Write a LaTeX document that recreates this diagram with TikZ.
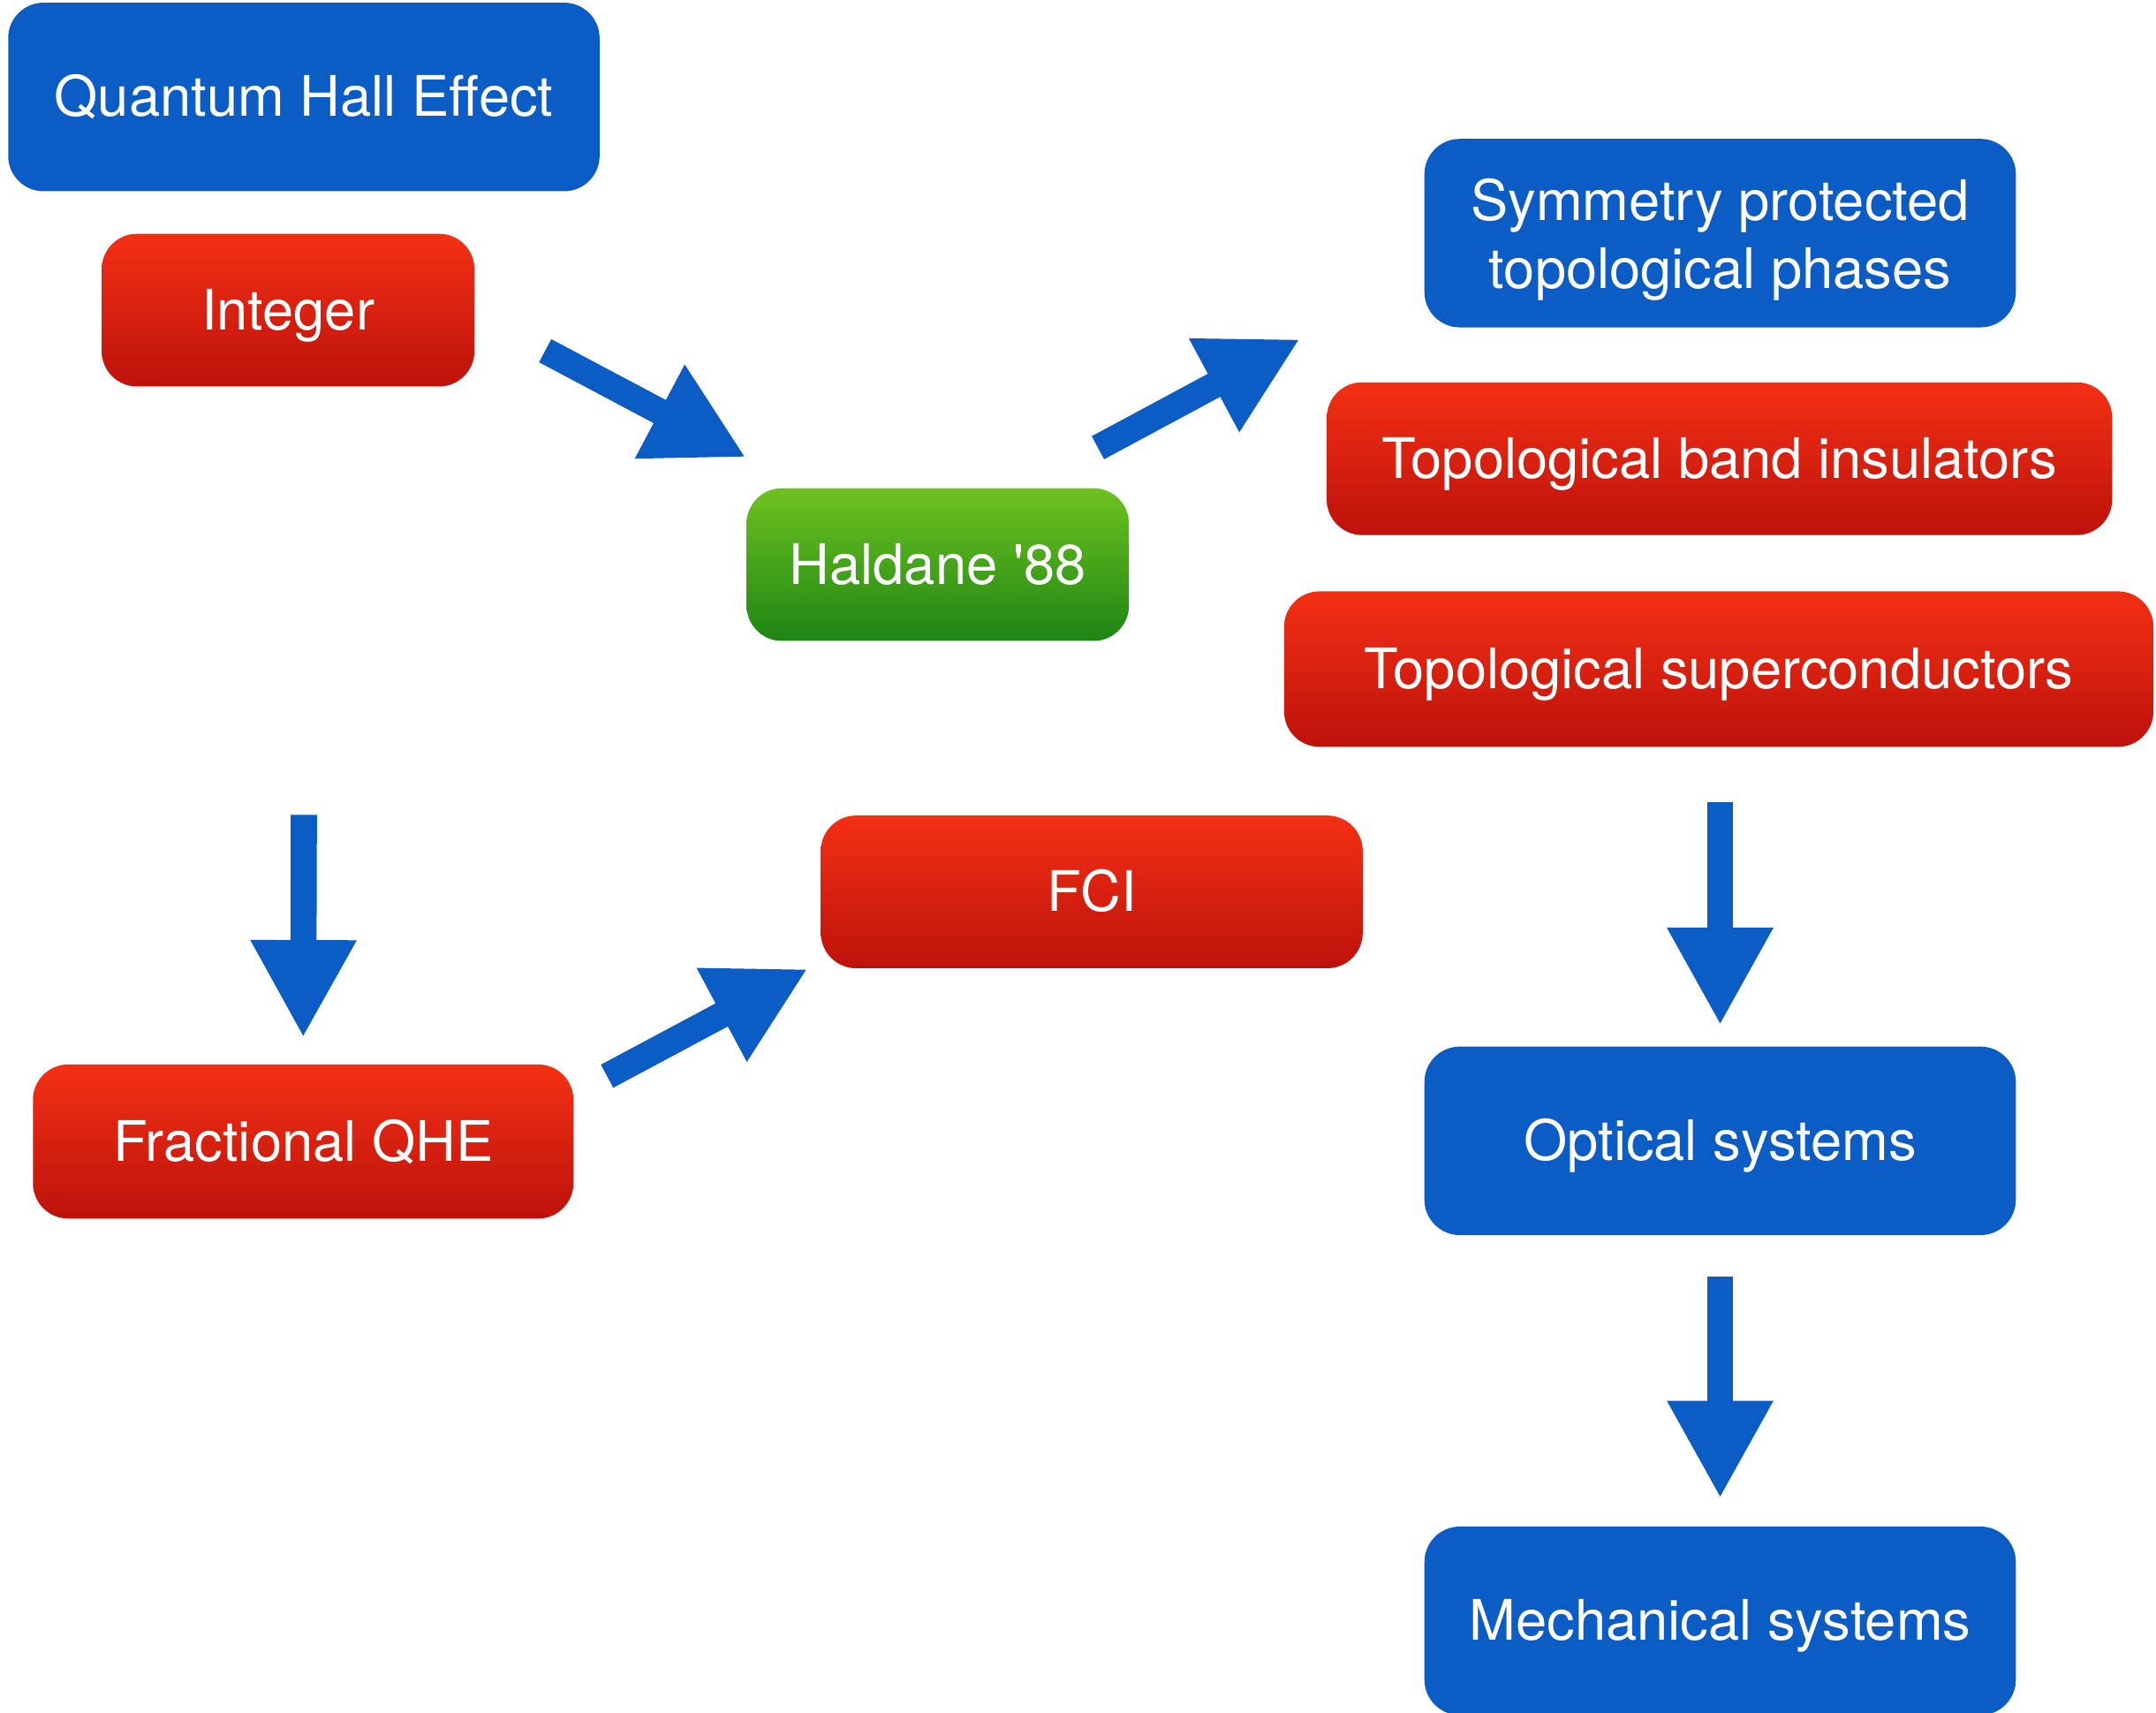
\documentclass[tikz,border=0pt]{standalone}
\usepackage{fontspec}
\setmainfont{TeX Gyre Heros}
\usetikzlibrary{arrows.meta,math}

\definecolor{qblue}{RGB}{11,92,196}
\definecolor{redtop}{RGB}{243,48,20}
\definecolor{redbot}{RGB}{189,18,12}
\definecolor{greentop}{RGB}{110,194,31}
\definecolor{greenbot}{RGB}{30,134,22}

\begin{document}
\begin{tikzpicture}[x=0.015568cm, y=-0.015568cm,
    box/.style={rounded corners=0.4cm, inner sep=0pt, text=white, align=center,
        text height=0.46cm, text depth=0.02cm, font=\fontsize{18}{22}\selectfont},
    bluebox/.style={box, fill=qblue, minimum width=6.694cm, minimum height=2.133cm},
    redbox/.style={box, top color=redtop, bottom color=redbot, minimum height=1.728cm},
    greenbox/.style={box, top color=greentop, bottom color=greenbot, minimum height=1.728cm},
    bigarrow/.style={draw=qblue, line width=\shaftw cm,
        -{Triangle[length=\headl cm, width=\headw cm]}}]
    \tikzmath{\shaftw = 0.296; \headl = 1.105; \headw = 1.12;}
    \useasboundingbox (0,0) rectangle (1568,1245);

    % left column
    \node[bluebox] (qhe) at (221,70.5) {Quantum Hall Effect};
    \node[redbox, minimum width=4.219cm] (integer) at (209.5,225.5) {Integer};
    \node[redbox, minimum width=6.118cm, minimum height=1.744cm] (fqhe) at (220.5,830) {Fractional QHE};

    % middle
    \node[greenbox, minimum width=4.328cm] (haldane) at (682,410.5) {Haldane \textquotesingle88};
    \node[redbox, minimum width=6.134cm] (fci) at (794,648.5) {FCI};

    % right column
    \node[bluebox, text height=1.278cm] (spt) at (1251,169.5) {Symmetry protected\\topological phases};
    \node[redbox, minimum width=8.889cm] (tbi) at (1250.5,333.5) {Topological band insulators};
    \node[redbox, minimum width=9.839cm, minimum height=1.759cm] (tsc) at (1250,486.5) {Topological superconductors};
    \node[bluebox] (optical) at (1251,829.5) {Optical systems};
    \node[bluebox] (mech) at (1251,1178.5) {Mechanical systems};

    \draw[bigarrow] ([shift={(51,29.5)}]integer.east) -- ([shift={(0,-22)}]haldane.north west);
    \draw[bigarrow] ([shift={(-23,-29)}]haldane.north east) -- ([shift={(-19,-31)}]tbi.north west);
    \draw[bigarrow] ([shift={(0,453)}]qhe.south) -- ([shift={(0,-19)}]fqhe.north);
    \draw[bigarrow] ([shift={(24,9)}]fqhe.north east) -- ([shift={(-9,0)}]fci.south west);
    \draw[bigarrow] ([shift={(1,40)}]tsc.south) -- ([shift={(0,-15)}]optical.north);
    \draw[bigarrow] ([shift={(0,30)}]optical.south) -- ([shift={(0,-20)}]mech.north);
\end{tikzpicture}
\end{document}
